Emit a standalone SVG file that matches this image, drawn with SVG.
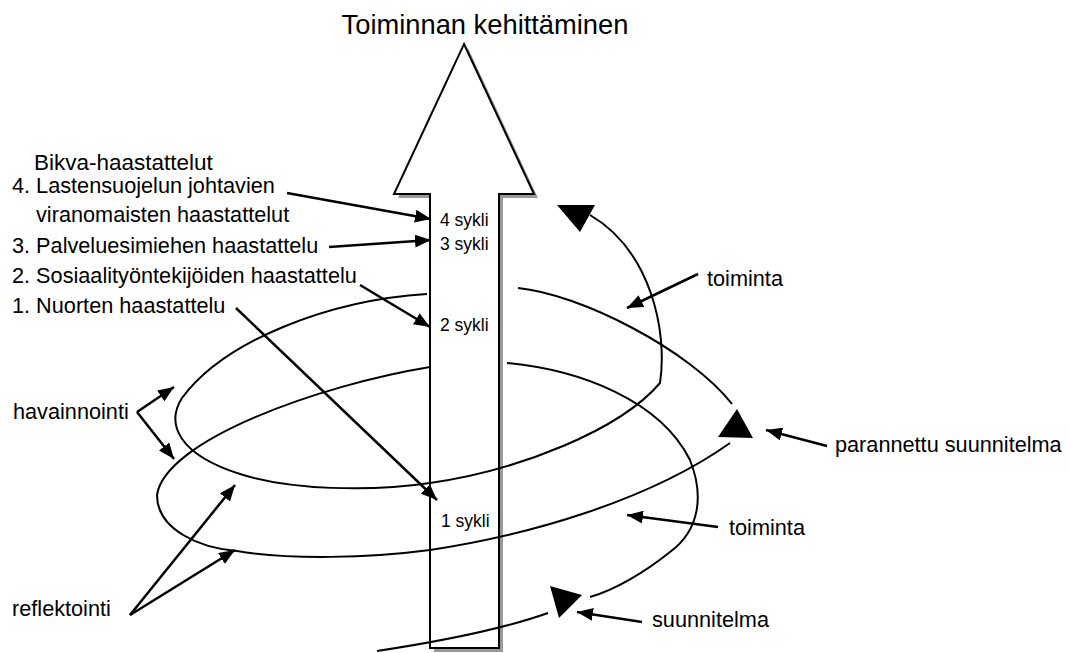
<svg xmlns="http://www.w3.org/2000/svg" width="1069" height="653" viewBox="0 0 1069 653">
<style>
  text { font-family: "Liberation Sans", Arial, sans-serif; fill: #000; }
  .lbl { font-size: 21.7px; }
  .syk { font-size: 17.5px; }
  .ttl { font-size: 27.3px; }
  .ring { fill: none; stroke: #000; stroke-width: 2; }
  .con { fill: none; stroke: #000; stroke-width: 2.5; marker-end: url(#ah); }
  .head { fill: #000; stroke: none; }
</style>
<defs>
  <marker id="ah" markerUnits="userSpaceOnUse" markerWidth="16" markerHeight="13" refX="16" refY="6.5" orient="auto">
    <path d="M0,0 L16,6.5 L0,13 Z" fill="#000"/>
  </marker>
</defs>
<rect width="1069" height="653" fill="#fff"/>

<g id="title"><text class="ttl" x="485" y="34" text-anchor="middle">Toiminnan kehittäminen</text></g>

<!-- spiral parts behind the arrow -->
<g id="spiral-back">
  <path class="ring" d="M518,288 C580,294 690,350 732,404"/>
  <path class="ring" d="M590,597 C615,590 645,572 670,552 C700,530 704,495 690,460 C660,400 580,370 507,363"/>
</g>

<g id="big-arrow">
  <polygon points="468,48 538,198 503,198 503,652 434,652 434,198 398,198" fill="#999"/>
  <polygon points="464,44 534,194 499,194 499,648 430,648 430,194 394,194" fill="#fff" stroke="#000" stroke-width="2" stroke-linejoin="miter"/>
</g>

<g id="spiral-front">
  <path class="ring" d="M427,294 C330,300 225,340 182,398 C165,425 180,455 240,474 C290,490 370,492 430,483 C520,470 620,430 660,383 C668,330 650,250 590,215"/>
  <path class="ring" d="M430,367 C320,385 165,440 157,495 C157,530 200,548 237,551 C290,560 370,558 430,550 C530,535 650,500 730,443"/>
  <path class="ring" d="M377,651 C430,643 500,630 548,613"/>
  <polygon class="head" points="557,205 595,205 580,232"/>
  <polygon class="head" points="737,409 718,437 753,438"/>
  <polygon class="head" points="550,586 582,595 559,618"/>
</g>

<g id="cycles">
  <text class="syk" x="440" y="226">4 sykli</text>
  <text class="syk" x="440" y="250">3 sykli</text>
  <text class="syk" x="440" y="331">2 sykli</text>
  <text class="syk" x="441" y="527">1 sykli</text>
</g>

<g id="bikva">
  <text class="lbl" x="34" y="170" style="font-size:22.5px">Bikva-haastattelut</text>
  <text class="lbl" x="12" y="193">4. Lastensuojelun johtavien</text>
  <text class="lbl" x="36" y="222">viranomaisten haastattelut</text>
  <text class="lbl" x="12" y="253">3. Palveluesimiehen haastattelu</text>
  <text class="lbl" x="12" y="283">2. Sosiaalityöntekijöiden haastattelu</text>
  <text class="lbl" x="12" y="313">1. Nuorten haastattelu</text>
</g>

<g id="havainnointi"><text class="lbl" x="13" y="419">havainnointi</text></g>
<g id="reflektointi"><text class="lbl" x="12" y="616">reflektointi</text></g>
<g id="toiminta-upper"><text class="lbl" x="707" y="286">toiminta</text></g>
<g id="parannettu"><text class="lbl" x="835" y="452">parannettu suunnitelma</text></g>
<g id="toiminta-lower"><text class="lbl" x="729" y="535">toiminta</text></g>
<g id="suunnitelma"><text class="lbl" x="652" y="627">suunnitelma</text></g>

<g id="connectors">
  <path class="con" d="M287,193 L431,219"/>
  <path class="con" d="M329,247 L431,240"/>
  <path class="con" d="M360,285 L430,327"/>
  <path class="con" d="M236,308 L437,500"/>
  <path class="con" d="M137,412 L174,387"/>
  <path class="con" d="M137,412 L174,459"/>
  <path class="con" d="M130,615 L235,485"/>
  <path class="con" d="M130,615 L235,550"/>
  <path class="con" d="M698,274 L627,308"/>
  <path class="con" d="M827,446 L766,430"/>
  <path class="con" d="M718,527 L627,515"/>
  <path class="con" d="M642,622 L577,612"/>
</g>
</svg>
